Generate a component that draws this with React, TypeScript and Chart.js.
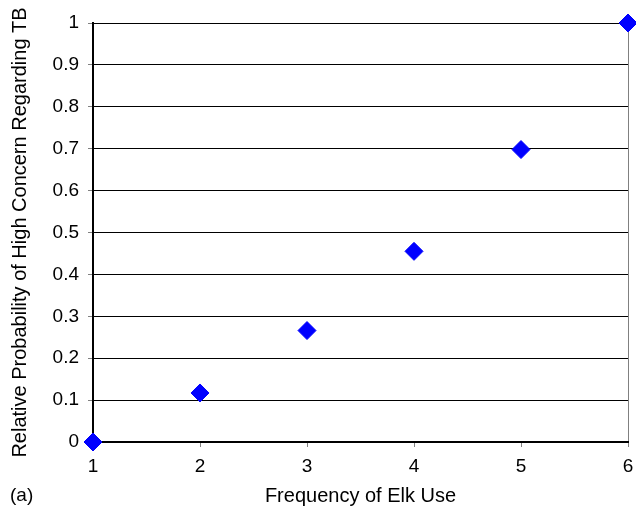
import React, { useEffect, useRef } from "react";
import { Chart, registerables } from "chart.js";

Chart.register(...registerables);

const xValues = [1, 2, 3, 4, 5, 6];
const yValues = [0, 0.117, 0.266, 0.455, 0.698, 1.0];
const xTitle = "Frequency of Elk Use";
const yTitle = "Relative Probability of High Concern Regarding TB";
const panelLabel = "(a)";

const FONT = "'Liberation Sans', Arial, sans-serif";

export default function App() {
  const ref = useRef<HTMLCanvasElement | null>(null);

  useEffect(() => {
    document.body.style.margin = "0";
    const canvas = ref.current;
    if (!canvas) return;

    const panelPlugin = {
      id: "panelLabel",
      afterDraw(chart: any) {
        const ctx = chart.ctx;
        ctx.save();
        ctx.font = `19px ${FONT}`;
        ctx.fillStyle = "#000";
        ctx.textAlign = "left";
        ctx.textBaseline = "middle";
        ctx.fillText(panelLabel, 10, 496);
        ctx.restore();
      },
    };

    const chart = new Chart(canvas, {
      type: "scatter",
      data: {
        datasets: [
          {
            data: xValues.map((x, i) => ({ x, y: yValues[i] })),
            backgroundColor: "#0000FF",
            borderColor: "#0000FF",
            borderWidth: 1,
            pointStyle: "rectRot",
            pointRadius: 9,
            pointHoverRadius: 9,
            clip: false as any,
          },
        ],
      },
      options: {
        animation: false,
        responsive: false,
        devicePixelRatio: 1,
        layout: { autoPadding: false, padding: { left: 0, right: 8, top: 23, bottom: 0 } },
        plugins: {
          legend: { display: false },
          tooltip: { enabled: false },
        },
        scales: {
          x: {
            type: "linear",
            min: 1,
            max: 6,
            afterFit(scale: any) {
              scale.height = 68;
              scale.paddingRight = 0;
              scale.paddingLeft = 0;
            },
            ticks: {
              stepSize: 1,
              color: "#000",
              font: { family: FONT, size: 19 },
              padding: 8,
            },
            grid: {
              color: (c: any) =>
                c.tick && c.tick.value === 6 ? "#808080" : "rgba(0,0,0,0)",
              drawOnChartArea: true,
              drawTicks: true,
              tickLength: 5,
              tickColor: "#808080",
              lineWidth: 1,
            },
            border: { display: true, color: "#000", width: 2 },
            title: {
              display: true,
              text: xTitle,
              color: "#000",
              font: { family: FONT, size: 20 },
              padding: { top: 0, bottom: 2 },
            },
          },
          y: {
            type: "linear",
            min: 0,
            max: 1,
            afterFit(scale: any) {
              scale.width = 93;
              scale.paddingTop = 0;
              scale.paddingBottom = 0;
            },
            ticks: {
              stepSize: 0.1,
              color: "#000",
              font: { family: FONT, size: 19 },
              padding: 9,
              callback: (v: any) => String(Math.round(Number(v) * 10) / 10),
            },
            grid: {
              color: "#000",
              lineWidth: 1,
              drawTicks: true,
              tickLength: 5,
              tickColor: "#808080",
            },
            border: { display: true, color: "#000", width: 2 },
            title: {
              display: true,
              text: yTitle,
              color: "#000",
              font: { family: FONT, size: 20 },
              padding: { top: 8, bottom: 0 },
            },
          },
        },
      },
      plugins: [panelPlugin],
    });

    return () => chart.destroy();
  }, []);

  return (
    <div style={{ position: "absolute", left: 0, top: 0, width: 636, height: 510 }}>
      <canvas ref={ref} width={636} height={510} style={{ width: 636, height: 510 }} />
    </div>
  );
}
